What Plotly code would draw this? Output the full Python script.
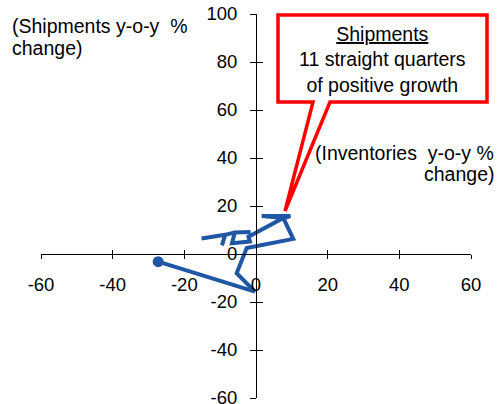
import plotly.graph_objects as go

W, H = 497, 404

# Data: inventories y-o-y % (x), shipments y-o-y % (y)
inventories = [-27.3, -0.3, -5.4, -2.6, 10.4, 7.6, 1.6, 9.6, 7.4, -2.1, -1.7,
               -6.7, -5.9, -1.5, -5.9, -8.6, -9.5, -8.6, -15.2]
shipments = [-3.2, -15.7, -8.0, 2.5, 6.3, 15.0, 15.8, 15.8, 14.8, 7.2, 5.2,
             4.5, 9.0, 9.2, 9.0, 8.0, 3.6, 8.0, 6.5]
x_ticks = [-60, -40, -20, 0, 20, 40, 60]
y_ticks = [-60, -40, -20, 0, 20, 40, 60, 80, 100]

BLUE = "#1F56A5"
RED = "#FF0000"
FONT = "Liberation Sans, Arial, sans-serif"


def px(x):
    return x / W


def py(y):
    return 1 - y / H


x_dom = [px(41), px(471)]
y_dom = [py(398), py(14)]
x_axis_pos = py(254)   # where y = 0
y_axis_pos = px(256)   # where x = 0

fig = go.Figure()
fig.add_trace(go.Scatter(
    x=inventories, y=shipments, mode="lines",
    line=dict(color=BLUE, width=4), hoverinfo="skip", showlegend=False))
fig.add_trace(go.Scatter(
    x=inventories[:1], y=shipments[:1], mode="markers",
    marker=dict(color=BLUE, size=11), hoverinfo="skip", showlegend=False))
# empty trace to create the overlay axes (inside ticks)
fig.add_trace(go.Scatter(x=[], y=[], xaxis="x2", yaxis="y2", showlegend=False))

tickfont = dict(family=FONT, size=18.5, color="black")
common = dict(showgrid=False, zeroline=False, ticks="outside", tickcolor="black",
              tickwidth=1, linecolor="black", linewidth=1, showline=True,
              tickfont=tickfont, fixedrange=True, automargin=False,
              ticklabeloverflow="allow")

fig.update_layout(
    width=W, height=H,
    margin=dict(l=0, r=0, t=0, b=0, autoexpand=False),
    paper_bgcolor="white", plot_bgcolor="rgba(0,0,0,0)",
    xaxis=dict(range=[-60, 60], domain=x_dom, anchor="free", position=x_axis_pos,
               tickvals=x_ticks, ticktext=[str(v) for v in x_ticks], ticklen=4,
               ticklabelstandoff=10, **common),
    yaxis=dict(range=[-60, 100], domain=y_dom, anchor="free", position=y_axis_pos,
               tickvals=y_ticks, ticktext=[str(v) for v in y_ticks], ticklen=6,
               ticklabelstandoff=9, **common),
    xaxis2=dict(range=[-60, 60], domain=x_dom, anchor="free", position=x_axis_pos,
                overlaying="x", tickvals=x_ticks, ticks="inside", ticklen=4,
                tickcolor="black", showticklabels=False, showline=False,
                showgrid=False, zeroline=False, automargin=False),
    yaxis2=dict(range=[-60, 100], domain=y_dom, anchor="free", position=y_axis_pos,
                overlaying="y", tickvals=y_ticks, ticks="inside", ticklen=6,
                tickcolor="black", showticklabels=False, showline=False,
                showgrid=False, zeroline=False, automargin=False),
)

# Callout box with pointer
path = (f"M {px(278)},{py(15)} L {px(487)},{py(15)} L {px(487)},{py(102)} "
        f"L {px(330)},{py(102)} L {px(285)},{py(211)} L {px(313)},{py(102)} "
        f"L {px(278)},{py(102)} Z")
fig.add_shape(type="path", path=path, xref="paper", yref="paper",
              line=dict(color=RED, width=3.5), fillcolor="white", layer="above")

fig.add_annotation(
    x=px(382), y=py(59), xref="paper", yref="paper", showarrow=False,
    text="<u>Shipments</u><br>11 straight quarters<br>of positive growth",
    font=dict(family=FONT, size=19.5, color="black"), align="center",
    xanchor="center", yanchor="middle")


def label(text, x, y, anchor):
    fig.add_annotation(
        x=px(x), y=py(y), xref="paper", yref="paper", showarrow=False,
        text=text, font=dict(family=FONT, size=19.5, color="black"),
        xanchor=anchor, yanchor="middle")


label("(Shipments y-o-y\u00a0\u00a0%", 10, 26, "left")
label("change)", 10, 48, "left")
label("(Inventories\u00a0\u00a0y-o-y %", 496, 153, "right")
label("change)", 496, 174, "right")

fig.write_html("out.html")
